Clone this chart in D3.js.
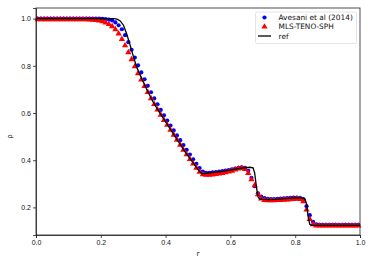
<!DOCTYPE html>
<html lang="en">
<head>
    <meta charset="UTF-8">
    <title>rho vs r</title>
    <style>
        body {
            margin: 0;
            padding: 0;
            background: white;
        }
        svg {
            display: block;
            font-family: "DejaVu Sans", sans-serif;
        }
        .axis text {
            font-size: 7px;
            fill: #111;
        }
        .axis path, .axis line {
            stroke: #222;
            stroke-width: 0.8;
        }
        .legend text {
            font-size: 7.4px;
            fill: #111;
        }
    </style>
</head>
<body>
    <div id="chart"></div>

    <script src="https://d3js.org/d3.v7.min.js"></script>
    <script>
        const width = 374;
        const height = 267;
        const margin = { top: 8, right: 14, bottom: 32, left: 36 };

        // particle positions (same for both runs)
        const rPart = [
            0.005, 0.015, 0.025, 0.035, 0.045, 0.055, 0.065, 0.075, 0.085, 0.095,
            0.105, 0.115, 0.125, 0.135, 0.145, 0.155, 0.165, 0.175, 0.185, 0.195,
            0.205, 0.215, 0.225, 0.235, 0.245, 0.255, 0.265, 0.275, 0.285, 0.295,
            0.305, 0.315, 0.325, 0.335, 0.345, 0.355, 0.365, 0.375, 0.385, 0.395,
            0.405, 0.415, 0.425, 0.435, 0.445, 0.455, 0.465, 0.475, 0.485, 0.495,
            0.505, 0.515, 0.525, 0.535, 0.545, 0.555, 0.565, 0.575, 0.585, 0.595,
            0.605, 0.615, 0.625, 0.635, 0.645, 0.655, 0.665, 0.675, 0.685, 0.695,
            0.705, 0.715, 0.725, 0.735, 0.745, 0.755, 0.765, 0.775, 0.785, 0.795,
            0.805, 0.815, 0.825, 0.835, 0.845, 0.855, 0.865, 0.875, 0.885, 0.895,
            0.905, 0.915, 0.925, 0.935, 0.945, 0.955, 0.965, 0.975, 0.985, 0.995
        ];

        // Avesani et al (2014)
        const rhoAvesani = [
            1.0, 1.0, 1.0, 1.0, 1.0, 1.0, 1.0, 1.0, 1.0, 1.0,
            1.0, 1.0, 1.0, 1.0, 1.0, 1.0, 1.0, 1.0, 1.0, 1.0,
            0.999, 0.998, 0.996, 0.992, 0.984, 0.972, 0.955, 0.93, 0.90, 0.868,
            0.835, 0.802, 0.772, 0.743, 0.715, 0.688, 0.662, 0.637, 0.613, 0.59,
            0.568, 0.547, 0.526, 0.505, 0.485, 0.464, 0.444, 0.424, 0.404, 0.385,
            0.367, 0.352, 0.346, 0.346, 0.348, 0.350, 0.352, 0.354, 0.356, 0.358,
            0.361, 0.364, 0.368, 0.370, 0.368, 0.355, 0.325, 0.29, 0.26, 0.246,
            0.239, 0.236, 0.235, 0.235, 0.236, 0.237, 0.238, 0.239, 0.240, 0.241,
            0.241, 0.240, 0.235, 0.205, 0.167, 0.139, 0.128, 0.126, 0.126, 0.126,
            0.126, 0.126, 0.126, 0.126, 0.126, 0.126, 0.126, 0.126, 0.126, 0.126
        ];

        // MLS-TENO-SPH
        const rhoTeno = [
            0.996, 0.996, 0.996, 0.996, 0.996, 0.996, 0.996, 0.996, 0.996, 0.996,
            0.996, 0.996, 0.996, 0.996, 0.996, 0.996, 0.995, 0.994, 0.993, 0.991,
            0.988, 0.983, 0.976, 0.967, 0.954, 0.936, 0.913, 0.886, 0.857, 0.827,
            0.797, 0.768, 0.741, 0.714, 0.688, 0.662, 0.637, 0.614, 0.592, 0.57,
            0.549, 0.528, 0.507, 0.486, 0.465, 0.444, 0.424, 0.404, 0.385, 0.367,
            0.35, 0.34, 0.337, 0.337, 0.339, 0.341, 0.343, 0.345, 0.348, 0.351,
            0.355, 0.36, 0.364, 0.366, 0.362, 0.345, 0.318, 0.293, 0.255, 0.237,
            0.231, 0.229, 0.229, 0.229, 0.23, 0.231, 0.232, 0.233, 0.234, 0.235,
            0.236, 0.235, 0.225, 0.19, 0.15, 0.128, 0.122, 0.122, 0.122, 0.122,
            0.122, 0.122, 0.122, 0.122, 0.122, 0.122, 0.122, 0.122, 0.122, 0.122
        ];

        // reference solution
        const rRef = [
            0.0, 0.24, 0.25, 0.26, 0.27, 0.28, 0.29, 0.30, 0.31, 0.32,
            0.34, 0.36, 0.38, 0.40, 0.42, 0.44, 0.46, 0.48, 0.50, 0.51,
            0.515, 0.52, 0.54, 0.56, 0.58, 0.60, 0.62, 0.64, 0.66, 0.67,
            0.675, 0.68, 0.685, 0.69, 0.70, 0.72, 0.74, 0.76, 0.78, 0.80,
            0.82, 0.83, 0.835, 0.84, 0.845, 0.85, 1.0
        ];
        const rhoRef = [
            1.0, 1.0, 0.998, 0.99, 0.972, 0.935, 0.89, 0.842, 0.797, 0.765,
            0.705, 0.65, 0.605, 0.562, 0.52, 0.478, 0.435, 0.398, 0.36, 0.345,
            0.342, 0.343, 0.347, 0.35, 0.354, 0.358, 0.363, 0.367, 0.37, 0.368,
            0.345, 0.29, 0.245, 0.236, 0.234, 0.233, 0.234, 0.236, 0.238, 0.24,
            0.24, 0.236, 0.215, 0.16, 0.128, 0.124, 0.124
        ];

        const xTicks = [0.0, 0.2, 0.4, 0.6, 0.8, 1.0];
        const yTicks = [0.2, 0.4, 0.6, 0.8, 1.0];
        const legendLabels = ["Avesani et al (2014)", "MLS-TENO-SPH", "ref"];

        const svg = d3.select("#chart")
            .append("svg")
            .attr("width", width)
            .attr("height", height);

        const x = d3.scaleLinear()
            .domain([0, 1])
            .range([margin.left, width - margin.right]);

        const y = d3.scaleLinear()
            .domain([0.083, 1.045])
            .range([height - margin.bottom, margin.top]);

        const plot = svg.append("g");

        // Avesani - blue dots
        plot.selectAll(".dot")
            .data(rPart)
            .enter().append("circle")
            .attr("class", "dot")
            .attr("cx", d => x(d))
            .attr("cy", (d, i) => y(rhoAvesani[i]))
            .attr("r", 2.1)
            .attr("fill", "#0000ff");

        // TENO - red triangles
        const tri = d3.symbol().type(d3.symbolTriangle).size(17);
        plot.selectAll(".tri")
            .data(rPart)
            .enter().append("path")
            .attr("class", "tri")
            .attr("d", tri)
            .attr("transform", (d, i) => `translate(${x(d)},${y(rhoTeno[i])})`)
            .attr("fill", "#ff0000");

        // ref line
        const line = d3.line()
            .x(d => x(d))
            .y((d, i) => y(rhoRef[i]));

        plot.append("path")
            .datum(rRef)
            .attr("fill", "none")
            .attr("stroke", "black")
            .attr("stroke-width", 1.3)
            .attr("d", line);

        // axes
        svg.append("g")
            .attr("class", "axis")
            .attr("transform", `translate(0,${height - margin.bottom})`)
            .call(d3.axisBottom(x).tickValues(xTicks).tickFormat(d3.format(".1f")).tickSize(3).tickPadding(2));

        svg.append("g")
            .attr("class", "axis")
            .attr("transform", `translate(${margin.left},0)`)
            .call(d3.axisLeft(y).tickValues(yTicks).tickFormat(d3.format(".1f")).tickSize(3).tickPadding(2));

        // frame
        svg.append("rect")
            .attr("x", margin.left)
            .attr("y", margin.top)
            .attr("width", width - margin.left - margin.right)
            .attr("height", height - margin.top - margin.bottom)
            .attr("fill", "none")
            .attr("stroke", "#222")
            .attr("stroke-width", 0.8);

        // axis labels
        svg.append("text")
            .attr("x", x(0.5))
            .attr("y", 256)
            .attr("text-anchor", "middle")
            .style("font-size", "7px")
            .attr("fill", "#111")
            .text("r");

        svg.append("text")
            .attr("transform", `translate(12,${y(0.5)}) rotate(-90)`)
            .attr("text-anchor", "middle")
            .style("font-size", "7px")
            .attr("fill", "#111")
            .text("ρ");

        // legend
        const legend = svg.append("g").attr("class", "legend");
        legend.append("rect")
            .attr("x", 255.5)
            .attr("y", 12)
            .attr("width", 101)
            .attr("height", 31.5)
            .attr("rx", 1.5)
            .attr("fill", "white")
            .attr("stroke", "#ddd")
            .attr("stroke-width", 0.8);

        const rowY = [17.5, 26.8, 36];
        legend.append("circle")
            .attr("cx", 264.5).attr("cy", rowY[0]).attr("r", 2.1)
            .attr("fill", "#0000ff");
        legend.append("path")
            .attr("d", tri)
            .attr("transform", `translate(264.5,${rowY[1]})`)
            .attr("fill", "#ff0000");
        legend.append("line")
            .attr("x1", 258).attr("x2", 271)
            .attr("y1", rowY[2]).attr("y2", rowY[2])
            .attr("stroke", "black")
            .attr("stroke-width", 1.3);

        legend.selectAll(".lab")
            .data(legendLabels)
            .enter().append("text")
            .attr("class", "lab")
            .attr("x", 278.5)
            .attr("y", (d, i) => rowY[i])
            .attr("dy", "0.35em")
            .text(d => d);
    </script>
</body>
</html>
